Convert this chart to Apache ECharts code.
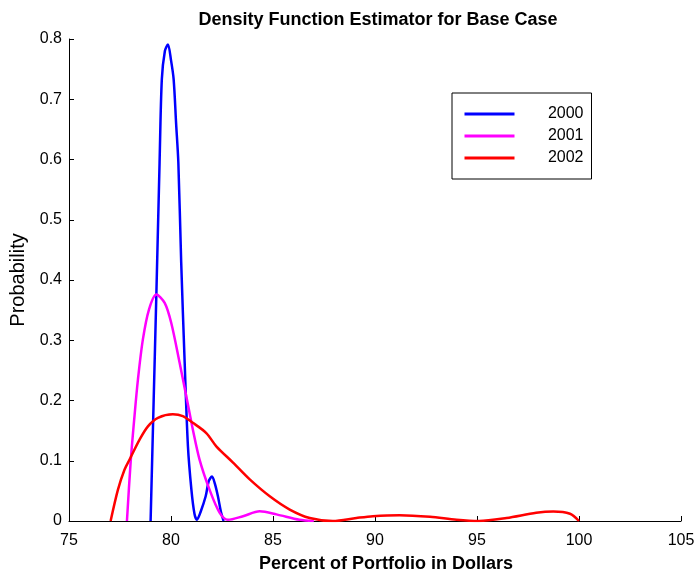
<!DOCTYPE html>
<html>
<head>
<meta charset="utf-8">
<script src="https://cdn.jsdelivr.net/npm/echarts@6/dist/echarts.min.js"></script>
<style>
html, body { margin: 0; padding: 0; background: #fff; }
#chart { width: 696px; height: 573px; }
</style>
</head>
<body>
<div id="chart"></div>
<script>
// data: [percent, probability]
var years = ['2000', '2001', '2002'];
var d2000 = [[79.0,0],[79.15,0.2],[79.28,0.373],[79.44,0.595],[79.55,0.733],[79.7,0.78],[79.85,0.791],[80.0,0.765],
  [80.13,0.733],[80.25,0.66],[80.36,0.595],[80.5,0.429],[80.67,0.263],[80.83,0.124],[81.0,0.052],[81.15,0.012],
  [81.27,0.002],[81.45,0.015],[81.7,0.041],[81.85,0.066],[82.01,0.074],[82.15,0.062],[82.3,0.041],[82.45,0.015],[82.58,0]];
var d2001 = [[77.84,0],[78.02,0.097],[78.2,0.17],[78.38,0.235],[78.62,0.301],[78.92,0.351],[79.28,0.376],[79.69,0.362],
  [80.01,0.329],[80.42,0.263],[80.75,0.207],[81.07,0.152],[81.4,0.102],[81.89,0.052],[82.38,0.014],[82.79,0.002],
  [83.53,0.008],[84.35,0.016],[85.17,0.011],[86.3,0.002],[87.0,0]];
var d2002 = [[77.04,0],[77.4,0.052],[77.72,0.085],[77.97,0.102],[78.46,0.135],[78.87,0.157],[79.36,0.171],[80.09,0.177],
  [80.58,0.174],[81.07,0.163],[81.73,0.146],[82.22,0.124],[83.04,0.097],[83.86,0.069],[84.84,0.041],[85.82,0.019],
  [86.8,0.005],[87.93,0],[89.09,0.005],[89.9,0.008],[91.2,0.0096],[92.7,0.007],[94.0,0.002],[95.1,0],
  [96.45,0.005],[97.9,0.0136],[98.74,0.0158],[99.56,0.012],[100,0]];
var colors = ['#0000ff', '#ff00ff', '#ff0000'];
var xMin = 75, xMax = 105, xStep = 5;
var yMin = 0, yMax = 0.8, yStep = 0.1;

var chart = echarts.init(document.getElementById('chart'));
var font = 'Arial, "Liberation Sans", sans-serif';
var option = {
  animation: false,
  title: {
    text: 'Density Function Estimator for Base Case',
    left: 373,
    textAlign: 'center',
    top: 6,
    textStyle: { fontSize: 18, fontWeight: 'bold', color: '#000', fontFamily: font }
  },
  legend: {
    data: years,
    orient: 'vertical',
    left: 452,
    top: 93,
    padding: [13, 8, 13, 11],
    borderColor: '#000',
    borderWidth: 1,
    itemWidth: 50,
    itemHeight: 14,
    itemGap: 6,
    itemStyle: { opacity: 0 },
    lineStyle: { width: 3 },
    formatter: '{a|{name}}',
    textStyle: {
      fontFamily: font, fontSize: 16, color: '#000',
      rich: { a: { width: 64, align: 'right', fontSize: 16, fontFamily: font } }
    }
  },
  grid: { left: 69, right: 15, top: 39, bottom: 52, outerBoundsMode: 'none', containLabel: false },
  xAxis: {
    type: 'value',
    min: xMin, max: xMax, interval: xStep,
    name: 'Percent of Portfolio in Dollars',
    nameLocation: 'middle',
    nameGap: 34,
    nameTextStyle: { fontSize: 18, fontWeight: 'bold', color: '#000', fontFamily: font, padding: [0, 0, 0, 22] },
    axisLine: { lineStyle: { color: '#000', width: 1 } },
    axisTick: { inside: true, length: 5, lineStyle: { color: '#000' } },
    axisLabel: { fontSize: 16, color: '#000', fontFamily: font, margin: 12 },
    splitLine: { show: false }
  },
  yAxis: {
    type: 'value',
    min: yMin, max: yMax, interval: yStep,
    name: 'Probability',
    nameLocation: 'middle',
    nameGap: 32,
    nameTextStyle: { fontSize: 20, color: '#000', fontFamily: font },
    axisLine: { show: true, lineStyle: { color: '#000', width: 1 } },
    axisTick: { show: true, inside: true, length: 5, lineStyle: { color: '#000' } },
    axisLabel: { fontSize: 16, color: '#000', fontFamily: font, margin: 7 },
    splitLine: { show: false }
  },
  series: [d2000, d2001, d2002].map(function (d, i) {
    return {
      name: years[i],
      type: 'line',
      data: d,
      symbol: 'none',
      smooth: 0.3,
      color: colors[i],
      lineStyle: { width: 2.5, color: colors[i] }
    };
  })
};
chart.setOption(option);
</script>
</body>
</html>
